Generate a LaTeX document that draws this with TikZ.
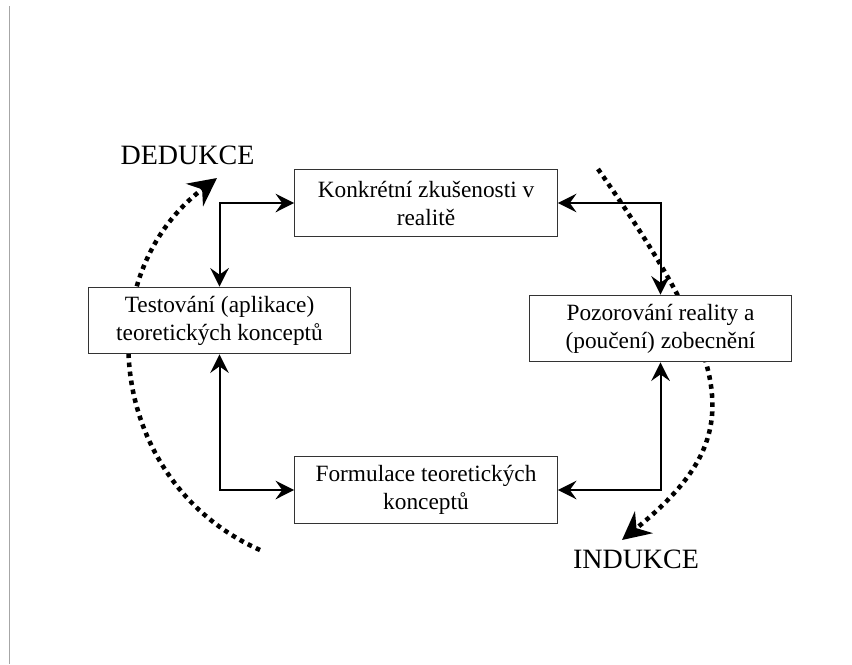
\documentclass[tikz,border=0pt]{standalone}
\usepackage{fontspec}
\setmainfont{Liberation Serif}
\usetikzlibrary{arrows.meta}
\tikzset{every picture/.style={x=0.75pt, y=-0.75pt}}
\tikzset{stage/.style={draw=black!80, line width=0.75pt, fill=white, inner sep=0pt,
    minimum width=197pt, minimum height=50pt, align=center,
    font=\fontsize{17.5}{21}\selectfont}}
\tikzset{link/.style={line width=1.5pt, {Stealth[length=14pt, width=14pt, inset=5pt]}-{Stealth[length=14pt, width=14pt, inset=5pt]}}}
\tikzset{cycle/.style={line width=3.4pt, dash pattern=on 3.4pt off 3.4pt, -{Stealth[length=21pt, width=21pt, inset=7pt]}}}
\tikzset{mode/.style={font=\fontsize{21}{25}\selectfont, inner sep=0pt}}

\begin{document}
\begin{tikzpicture}
\useasboundingbox (0,0) rectangle (852,664);
\draw[black!35, line width=0.75pt] (9.5,6) -- (9.5,664);

% dotted cycles
\coordinate (ded-start) at (260,550);
\coordinate (ded-end) at (217,178);
\coordinate (ind-start) at (598,169);
\coordinate (ind-end) at (622,540);
\draw[cycle] (ded-start) .. controls (109,483) and (85,278) .. (ded-end);
\draw[cycle] (ind-start) .. controls (741,374) and (746,439) .. (ind-end);

\node[mode] (ded) at (187.5,155) {DEDUKCE};
\node[mode] (ind) at (636,559) {INDUKCE};

% stages
\node[stage] (zkus) at (426,203) {Konkrétní zkušenosti v\\realitě};
\node[stage] (poz) at (660.5,328.5) {Pozorování reality a\\(poučení) zobecnění};
\node[stage] (form) at (426,490) {Formulace teoretických\\konceptů};
\node[stage] (test) at (219.5,320.5) {Testování (aplikace)\\teoretických konceptů};

\draw[link] (test.north) |- (zkus.west);
\draw[link] (zkus.east) -| (poz.north);
\draw[link] (poz.south) |- (form.east);
\draw[link] (test.south) |- (form.west);
\end{tikzpicture}
\end{document}
